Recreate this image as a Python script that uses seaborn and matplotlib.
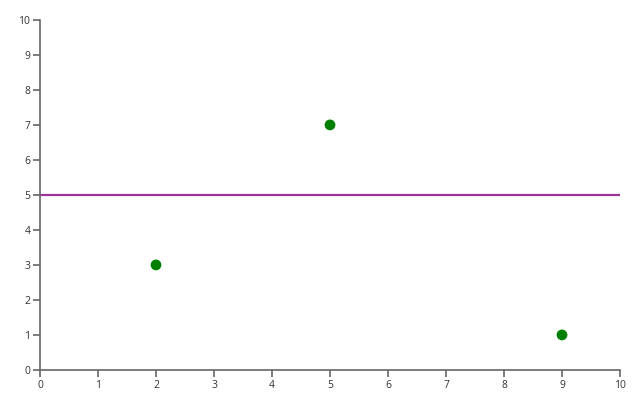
import matplotlib
matplotlib.use("Agg")
import matplotlib.pyplot as plt
import seaborn as sns
import pandas as pd

# data
x_vals = [2, 5, 9]
y_vals = [3, 7, 1]
ref_y = 5
ticks = list(range(0, 11))

df = pd.DataFrame({"x": x_vals, "y": y_vals})

sns.set_style("white")
plt.rcParams["font.family"] = ["Open Sans", "DejaVu Sans"]

fig = plt.figure(figsize=(6.4, 4), dpi=100)
ax = fig.add_axes([0.0625, 0.0752, 0.90625, 0.875])

ax.axhline(ref_y, color="#993399", linewidth=1.6, zorder=1)
sns.scatterplot(data=df, x="x", y="y", ax=ax, color="green", s=60,
                edgecolor="none", zorder=2, legend=False)

ax.set_xlim(0, 10)
ax.set_ylim(0, 10)
ax.set_xticks(ticks)
ax.set_yticks(ticks)
ax.set_xlabel("")
ax.set_ylabel("")

for side in ["top", "right"]:
    ax.spines[side].set_visible(False)
for side in ["left", "bottom"]:
    ax.spines[side].set_color("#666666")
    ax.spines[side].set_linewidth(1.2)

ax.tick_params(axis="both", length=5, width=1.2, color="#666666",
               labelsize=7.5, labelcolor="#333333", pad=2, direction="out",
               bottom=True, left=True)

fig.savefig("out.png", dpi=100)
